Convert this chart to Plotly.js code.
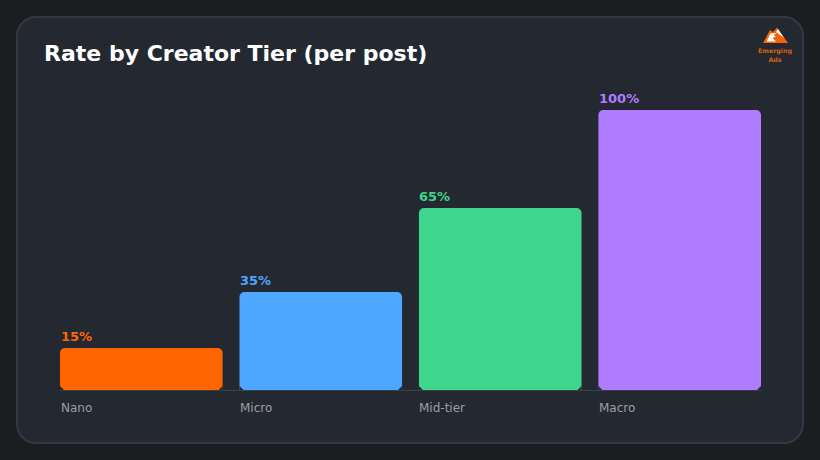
<!DOCTYPE html>
<html>
<head>
<meta charset="utf-8">
<script src="https://cdn.plot.ly/plotly-3.0.1.min.js"></script>
<style>
  html, body { margin: 0; padding: 0; background: #1c1d21; }
  #wrap { position: relative; width: 820px; height: 460px; overflow: hidden; }
  #card { position: absolute; left: 16px; top: 16px; width: 784px; height: 424px; background: #242831;
          border: 2px solid #343842; border-radius: 20px; }
  #myDiv { position: absolute; left: 0; top: 0; width: 820px; height: 460px; }
  #logo { position: absolute; left: 750px; top: 24px; }
</style>
</head>
<body>
<div id="wrap">
  <div id="card"></div>
  <div id="myDiv"></div>
  <svg id="logo" width="50" height="42" viewBox="0 0 50 42">
    <path d="M13 19 L20 6 L23 8 L27 3.5 L38 19 Z" fill="#f56208"/>
    <path d="M16.5 17.5 L20.5 9.5 L26.5 9 L23.5 11.5 L26 12.5 L22.5 14 L26 17.5 Z" fill="#ffffff"/>
    <path d="M26 8 L28 5 L34 14 L29.5 10.5 Z" fill="#ffffff"/>
    <text x="25" y="29" text-anchor="middle" font-family="DejaVu Sans" font-weight="bold" font-size="6.3" fill="#d9620f">Emerging</text>
    <text x="25" y="38" text-anchor="middle" font-family="DejaVu Sans" font-weight="bold" font-size="6.3" fill="#d9620f">Ads</text>
  </svg>
</div>
<script>
var categories = ['Nano', 'Micro', 'Mid-tier', 'Macro'];
var rates = [15, 35, 65, 100];
var barColors = ['#ff6600', '#4da6ff', '#3dd68c', '#b07cff'];
var valueLabels = ['15%', '35%', '65%', '100%'];
var barWidth = 0.906;
var cardColor = '#242831';

var positions = categories.map(function (c, i) { return i; });

var trace1 = {
    type: 'bar',
    x: positions,
    y: rates,
    width: barWidth,
    marker: { color: barColors, cornerradius: 5, line: { width: 0 } },
    hoverinfo: 'skip'
};

var annotations = [];
var shapes = [];
categories.forEach(function (name, i) {
    let left = i - barWidth / 2;
    let right = i + barWidth / 2;
    annotations.push({
        x: left, y: rates[i], xref: 'x', yref: 'y',
        text: valueLabels[i], showarrow: false,
        xanchor: 'left', yanchor: 'bottom', yshift: 2, xshift: -1.5,
        font: { family: 'DejaVu Sans', size: 13, color: barColors[i], weight: 700 }
    });
    annotations.push({
        x: left, y: 0, xref: 'x', yref: 'y',
        text: name, showarrow: false,
        xanchor: 'left', yanchor: 'top', yshift: -9, xshift: -1.5,
        font: { family: 'DejaVu Sans', size: 12, color: '#9a9ea8' }
    });
    // bars only round the top end, so nick the two bottom corners
    [[left, 1], [right, -1]].forEach(function (c) {
        shapes.push({
            type: 'path', layer: 'above', xref: 'x', yref: 'y',
            xsizemode: 'pixel', ysizemode: 'pixel', xanchor: c[0], yanchor: 0,
            path: 'M0 0 L' + (4 * c[1]) + ' 0 L0 4 Z',
            fillcolor: cardColor, line: { width: 0 }
        });
    });
});

var layout = {
    width: 820,
    height: 460,
    margin: { l: 60, r: 59, t: 110, b: 70 },
    paper_bgcolor: 'rgba(0,0,0,0)',
    plot_bgcolor: 'rgba(0,0,0,0)',
    showlegend: false,
    title: {
        text: 'Rate by Creator Tier (per post)',
        x: 44 / 820, xref: 'container', xanchor: 'left',
        y: 1 - 53 / 460, yref: 'container', yanchor: 'middle',
        font: { family: 'DejaVu Sans', size: 22, color: '#ffffff', weight: 700 }
    },
    xaxis: {
        range: [-barWidth / 2, 3 + barWidth / 2],
        showticklabels: false, ticks: '', showgrid: false, zeroline: false,
        showline: true, linecolor: '#3a3f49', linewidth: 1
    },
    yaxis: {
        range: [0, 100],
        showticklabels: false, ticks: '', showgrid: false, zeroline: false, showline: false
    },
    annotations: annotations,
    shapes: shapes
};

var config = { displayModeBar: false, responsive: false };

Plotly.newPlot('myDiv', [trace1], layout, config);
</script>
</body>
</html>
